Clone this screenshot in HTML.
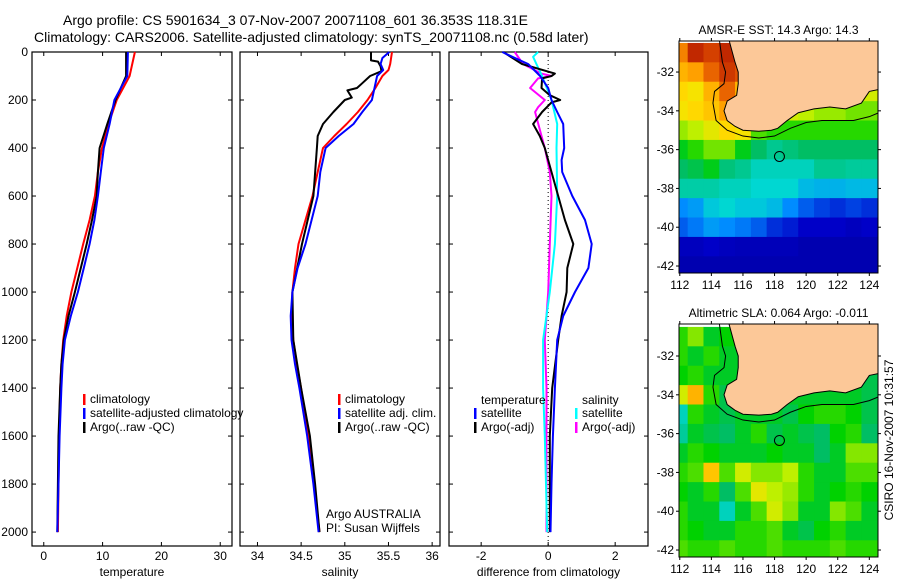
<!DOCTYPE html>
<html><head><meta charset="utf-8"><style>
body{margin:0;background:#fff}
svg{display:block;font-family:"Liberation Sans",sans-serif}
</style></head><body>
<svg id="fig" width="900" height="580" viewBox="0 0 900 580" xmlns="http://www.w3.org/2000/svg">
<rect width="900" height="580" fill="#fff"/>
<text x="63" y="25" font-size="14">Argo profile: CS 5901634_3 07-Nov-2007 20071108_601 36.353S 118.31E</text>
<text x="34" y="42" font-size="14">Climatology: CARS2006. Satellite-adjusted climatology: synTS_20071108.nc (0.58d later)</text>
<g id="plots"></g>
</svg>
<script>
// ---------- data ----------
const depthTicks=[0,200,400,600,800,1000,1200,1400,1600,1800,2000];
const tTicks=[0,10,20,30];
const sTicks=[34,34.5,35,35.5,36];
const sTickLabels=["34","34.5","35","35.5","36"];
const dTicks=[-2,0,2];

const tDepth=[0,100,200,300,400,500,600,700,800,900,1000,1100,1200,1300,1400,1600,1800,2000];
const tClim=[15.5,14.6,12.4,11.0,9.9,9.2,8.7,7.8,6.7,5.7,4.7,3.9,3.3,3.0,2.8,2.6,2.5,2.4];
const tSat=[14.3,14.2,12.0,11.2,10.2,9.7,9.2,8.6,7.8,6.8,5.8,4.6,3.6,3.2,3.0,2.7,2.5,2.3];
const tArgo=[14.0,14.0,12.2,10.8,9.5,9.2,9.0,8.2,7.3,6.3,5.3,4.2,3.4,3.0,2.8,2.5,2.4,2.3];

const sDepth=[0,25,50,75,100,150,200,250,300,350,400,500,600,700,800,900,1000,1100,1200,1300,1400,1600,1800,2000];
const sClim=[35.54,35.53,35.52,35.5,35.43,35.35,35.26,35.15,35.02,34.88,34.75,34.69,34.63,34.55,34.47,34.43,34.40,34.39,34.41,34.45,34.50,34.58,34.65,34.71];
const sSat=[35.51,35.43,35.41,35.44,35.37,35.34,35.31,35.2,35.10,34.93,34.78,34.72,34.69,34.62,34.55,34.46,34.40,34.38,34.39,34.43,34.48,34.57,34.64,34.70];
const sArgoDepth=[0,35,40,60,80,100,130,150,160,190,200,250,300,350,400,600,800,1000,1200,1400,1600,1800,2000];
const sArgo=[35.30,35.30,35.38,35.41,35.42,35.29,35.2,35.14,35.03,35.08,35.0,34.87,34.75,34.69,34.68,34.64,34.51,34.40,34.41,34.50,34.6,34.66,34.71];

const dTSatDepth=[0,20,50,100,150,200,250,300,400,450,500,600,700,800,900,1000,1100,1200,1400,1600,1800,2000];
const dTSat=[-1.37,-1.07,-0.6,-0.24,0.0,0.1,0.27,0.45,0.48,0.4,0.42,0.72,1.1,1.3,1.2,0.8,0.45,0.27,0.2,0.14,0.1,0.07];
const dTArgoDepth=[0,50,90,100,110,150,180,200,210,250,300,350,400,500,600,700,800,900,1000,1100,1200,1400,1600,2000];
const dTArgo=[-1.34,-0.78,0.2,0.1,-0.18,-0.2,0.05,0.36,0.1,-0.18,-0.45,-0.25,-0.1,0.1,0.3,0.5,0.75,0.57,0.55,0.4,0.3,0.12,0.05,0.05];
const dSSatDepth=[0,20,50,100,200,300,400,600,800,1000,1200,1400,1600,2000];
const dSSat=[-0.3,-0.45,-0.35,-0.18,0.1,0.27,0.25,0.27,0.2,0.05,-0.15,-0.15,-0.1,-0.03];
const dSArgoDepth=[0,50,90,100,110,150,200,230,250,350,400,500,600,800,1000,1200,1400,1600,2000];
const dSArgo=[-1.0,-0.75,-0.2,0.1,-0.3,-0.54,-0.1,-0.3,-0.39,-0.2,-0.1,0.05,0.1,0.05,0.0,-0.1,-0.05,-0.05,-0.05];

const mapLons=[112,113,114,115,116,117,118,119,120,121,122,123,124];
const mapLats=[-31,-32,-33,-34,-35,-36,-37,-38,-39,-40,-41,-42];
const sstGrid=[
[.85,.95,.92,.95,.9,.9,.9,.9,.9,.9,.9,.9,.9],
[.8,.82,.88,.93,.9,.9,.9,.9,.9,.9,.9,.9,.9],
[.76,.74,.8,.88,.8,.8,.8,.8,.8,.8,.8,.8,.7],
[.74,.76,.78,.82,.8,.74,.72,.7,.68,.66,.66,.64,.64],
[.66,.68,.72,.76,.74,.62,.6,.6,.6,.6,.6,.6,.6],
[.56,.6,.64,.64,.56,.5,.46,.48,.5,.5,.5,.5,.5],
[.5,.52,.56,.48,.46,.42,.42,.42,.42,.46,.46,.45,.45],
[.44,.44,.44,.42,.42,.4,.4,.4,.36,.35,.35,.36,.36],
[.3,.32,.38,.4,.38,.38,.36,.3,.25,.22,.2,.22,.2],
[.25,.28,.32,.3,.28,.25,.2,.18,.15,.15,.15,.13,.15],
[.13,.13,.15,.13,.12,.12,.12,.12,.1,.1,.1,.1,.1],
[.1,.1,.1,.1,.1,.1,.1,.1,.1,.1,.1,.1,.1]];
const slaGrid=[
[.6,.65,.55,.58,.55,.55,.55,.55,.55,.55,.55,.55,.55],
[.6,.55,.6,.55,.55,.55,.55,.55,.55,.55,.55,.55,.55],
[.58,.6,.55,.55,.55,.55,.55,.55,.55,.55,.55,.55,.52],
[.7,.8,.6,.52,.55,.55,.55,.55,.55,.55,.55,.55,.52],
[.42,.6,.55,.52,.55,.55,.55,.52,.58,.6,.6,.58,.52],
[.45,.55,.52,.5,.55,.6,.52,.55,.52,.5,.58,.6,.5],
[.55,.6,.58,.55,.55,.55,.58,.55,.55,.5,.55,.65,.65],
[.6,.62,.78,.62,.7,.65,.65,.68,.6,.55,.55,.62,.62],
[.58,.55,.6,.5,.62,.72,.68,.66,.6,.55,.58,.6,.58],
[.6,.55,.55,.42,.55,.62,.7,.65,.55,.55,.65,.62,.55],
[.6,.58,.55,.55,.6,.6,.62,.55,.52,.58,.6,.55,.55],
[.62,.6,.6,.62,.6,.6,.62,.6,.6,.6,.62,.6,.6]];
const lonTicks=[112,114,116,118,120,122,124];
const latTicks=[-32,-34,-36,-38,-40,-42];
const coast=[[115.1,-30.3],[115.5,-31.5],[115.7,-32],[115.7,-32.6],[115.6,-33.2],[115,-33.5],[114.8,-34],[115.0,-34.5],[115.5,-34.8],[116,-35],[117,-35.05],[117.8,-35],[118.2,-34.9],[118.8,-34.5],[119.5,-34.1],[120.5,-33.9],[121.5,-33.8],[122.5,-33.9],[123.5,-33.6],[124.0,-33.0],[124.6,-32.9],[124.6,-30.3]];
const shelf=[[114.5,-30.3],[114.7,-31.5],[114.9,-32],[114.8,-32.6],[114.2,-33.0],[114.1,-33.6],[114.3,-34.5],[115,-35],[116,-35.3],[117,-35.4],[118,-35.3],[119,-34.9],[120,-34.6],[121,-34.5],[122,-34.5],[123,-34.5],[124,-34.3],[124.6,-34.1]];
const argoPos=[118.31,-36.353];

// ---------- helpers ----------
const NS="http://www.w3.org/2000/svg";
const root=document.getElementById('plots');
function mk(tag,attrs,parent){const e=document.createElementNS(NS,tag);for(const k in attrs)e.setAttribute(k,attrs[k]);(parent||root).appendChild(e);return e;}
function txt(s,x,y,size,anchor,parent){const e=mk('text',{x:x,y:y,'font-size':size,'text-anchor':anchor||'start'},parent);e.textContent=s;return e;}

const Y0=52,Y1=546,D0=0,D1=2058;
const yScale=d=>Y0+(d-D0)/(D1-D0)*(Y1-Y0);

function panel(name,x0,x1,v0,v1,ticks,labels,title,ylabels){
  const g=mk('g',{});
  
  
  const xs=v=>x0+(v-v0)/(v1-v0)*(x1-x0);
  const fr=mk('rect',{x:x0,y:Y0,width:x1-x0,height:Y1-Y0,fill:'none',stroke:'#000','stroke-width':1.2},g);
  
  
  depthTicks.forEach(d=>{const y=yScale(d);
    mk('line',{x1:x0,y1:y,x2:x0+4,y2:y,stroke:'#000'},g);
    mk('line',{x1:x1,y1:y,x2:x1-4,y2:y,stroke:'#000'},g);
    if(ylabels){const t=txt(String(d),x0-4,y+4,12,'end',g);
      
      }
  });
  ticks.forEach((v,i)=>{const x=xs(v);
    mk('line',{x1:x,y1:Y0,x2:x,y2:Y0+4,stroke:'#000'},g);
    mk('line',{x1:x,y1:Y1,x2:x,y2:Y1-4,stroke:'#000'},g);
    const t=txt(labels[i],x,560,12,'middle',g);
    
    
  });
  const tt=txt(title,(x0+x1)/2,576,12,'middle',g);
  
  
  return {g,xs};
}
function series(p,depths,vals,color,w,name){
  const pts=depths.map((d,i)=>p.xs(vals[i]).toFixed(1)+','+yScale(d).toFixed(1)).join(' ');
  const l=mk('polyline',{points:pts,fill:'none',stroke:color,'stroke-width':w,'stroke-linejoin':'round'},p.g);
  
  
}
function legend(g,x,y,color,label,name){
  const m=mk('rect',{x:x,y:y-5,width:2.5,height:11,fill:color},g);
  
  
  const t=txt(label,x+7,y+4,12,'start',g);
  
  
}

// ---------- temperature ----------
const pT=panel('temperature',32,232,-2,32,tTicks,tTicks.map(String),'temperature',true);
series(pT,tDepth,tClim,'#f00',2,'temperature-climatology-line');
series(pT,tDepth,tArgo,'#000',2,'temperature-argo-line');
series(pT,tDepth,tSat,'#00f',2,'temperature-satellite-line');
legend(pT.g,83,399,'#f00','climatology','temp-legend-climatology');
legend(pT.g,83,413,'#00f','satellite-adjusted climatology','temp-legend-satellite');
legend(pT.g,83,427,'#000','Argo(..raw -QC)','temp-legend-argo');

// ---------- salinity ----------
const pS=panel('salinity',240,440,33.8,36.09,sTicks,sTickLabels,'salinity',false);
series(pS,sDepth,sClim,'#f00',2,'salinity-climatology-line');
series(pS,sArgoDepth,sArgo,'#000',2,'salinity-argo-line');
series(pS,sDepth,sSat,'#00f',2,'salinity-satellite-line');
legend(pS.g,338,399,'#f00','climatology','sal-legend-climatology');
legend(pS.g,338,413,'#00f','satellite adj. clim.','sal-legend-satellite');
legend(pS.g,338,427,'#000','Argo(..raw -QC)','sal-legend-argo');
let a1=txt('Argo AUSTRALIA',326,518,12,'start',pS.g);


let a2=txt('PI: Susan Wijffels',326,532,12,'start',pS.g);



// ---------- difference ----------
const pD=panel('difference',449,648,-2.96,2.98,dTicks,dTicks.map(String),'difference from climatology',false);
const z=mk('line',{x1:pD.xs(0),y1:Y0,x2:pD.xs(0),y2:Y1,stroke:'#000','stroke-dasharray':'1,3'},pD.g);


series(pD,dSArgoDepth,dSArgo,'#f0f',2,'diff-salinity-argo-line');
series(pD,dSSatDepth,dSSat,'#0ff',2,'diff-salinity-satellite-line');
series(pD,dTArgoDepth,dTArgo,'#000',2,'diff-temperature-argo-line');
series(pD,dTSatDepth,dTSat,'#00f',2,'diff-temperature-satellite-line');
let h1=txt('temperature',481,404,12,'start',pD.g);


let h2=txt('salinity',582,404,12,'start',pD.g);


legend(pD.g,474,413,'#00f','satellite','diff-legend-temp-satellite');
legend(pD.g,474,427,'#000','Argo(-adj)','diff-legend-temp-argo');
legend(pD.g,575,413,'#0ff','satellite','diff-legend-sal-satellite');
legend(pD.g,575,427,'#f0f','Argo(-adj)','diff-legend-sal-argo');

// ---------- maps ----------
const cmapStops=[[0,[0,0,127]],[0.15,[0,0,200]],[0.3,[0,140,255]],[0.4,[0,215,210]],[0.5,[0,190,100]],[0.58,[0,210,0]],[0.68,[190,240,0]],[0.75,[255,225,0]],[0.82,[255,160,0]],[0.9,[225,80,0]],[1,[160,0,0]]];
function cmap(v){for(let i=1;i<cmapStops.length;i++){if(v<=cmapStops[i][0]){const a=cmapStops[i-1],b=cmapStops[i];const t=(v-a[0])/(b[0]-a[0]);return 'rgb('+a[1].map((c,k)=>Math.round(c+(b[1][k]-c)*t)).join(',')+')';}}return 'rgb(160,0,0)';}
function drawMap(name,top,bottom,latTop,grid,title){
  const x0=679,x1=878,lon0=111.95,lon1=124.55,latBot=-42.36;
  const g=mk('g',{});
  
  
  const X=l=>x0+(l-lon0)/(lon1-lon0)*(x1-x0);
  const Y=l=>top+(latTop-l)/(latTop-latBot)*(bottom-top);
  const cid=name+'-clip';
  const cp=mk('clipPath',{id:cid},g);mk('rect',{x:x0,y:top,width:x1-x0,height:bottom-top},cp);
  const cells=mk('g',{'clip-path':'url(#'+cid+')'},g);
  mapLats.forEach((lat,r)=>mapLons.forEach((lon,c)=>{
    const xa=X(lon-0.5),xb=X(lon+0.5),ya=Y(lat+0.5),yb=Y(lat-0.5);
    const cell=mk('rect',{x:xa,y:ya,width:xb-xa+0.5,height:yb-ya+0.5,fill:cmap(grid[r][c])},cells);
    
    
  }));
  const land=mk('polygon',{points:coast.map(p=>X(p[0])+','+Y(p[1])).join(' '),fill:'#fcc898',stroke:'#000','stroke-width':1},cells);
  
  
  const sh=mk('polyline',{points:shelf.map(p=>X(p[0])+','+Y(p[1])).join(' '),fill:'none',stroke:'#000','stroke-width':1},cells);
  
  
  const m=mk('circle',{cx:X(argoPos[0]),cy:Y(argoPos[1]),r:5,fill:'none',stroke:'#000','stroke-width':1},g);
  
  
  mk('rect',{x:x0,y:top,width:x1-x0,height:bottom-top,fill:'none',stroke:'#000','stroke-width':1},g);
  lonTicks.forEach(l=>{const x=X(l);mk('line',{x1:x,y1:bottom,x2:x,y2:bottom+3,stroke:'#000'},g);mk('line',{x1:x,y1:top,x2:x,y2:top-3,stroke:'#000'},g);
    const t=txt(String(l),x,bottom+16,12,'middle',g);
    
    });
  latTicks.forEach(l=>{const y=Y(l);mk('line',{x1:x0,y1:y,x2:x0-3,y2:y,stroke:'#000'},g);mk('line',{x1:x1,y1:y,x2:x1+3,y2:y,stroke:'#000'},g);
    const t=txt(String(l),x0-5,y+4,12,'end',g);
    
    });
  const t=txt(title,(x0+x1)/2,top-7,12,'middle',g);
  
  
}
drawMap('sst-map',41,273,-30.4,sstGrid,'AMSR-E SST: 14.3 Argo: 14.3');
drawMap('sla-map',324,557,-30.35,slaGrid,'Altimetric SLA: 0.064 Argo: -0.011');
const cs=txt('CSIRO 16-Nov-2007 10:31:57',0,0,12,'middle');
cs.setAttribute('transform','translate(893,440) rotate(-90)');


</script>
</body></html>
